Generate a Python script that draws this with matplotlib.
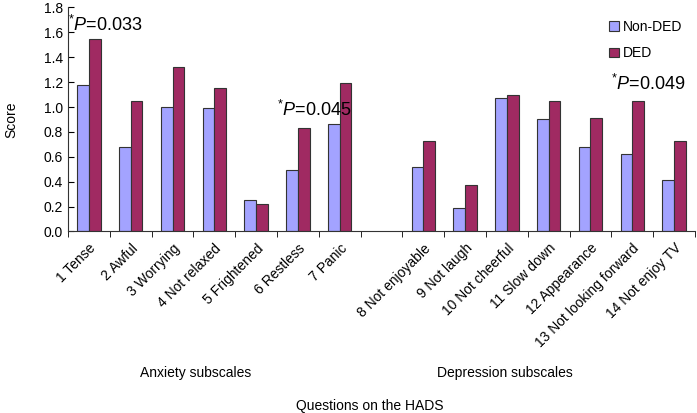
import numpy as np
import matplotlib
matplotlib.use("Agg")
import matplotlib.pyplot as plt

plt.rcParams['font.family'] = ['Liberation Sans', 'DejaVu Sans']
plt.rcParams['mathtext.fontset'] = 'custom'
plt.rcParams['mathtext.rm'] = 'Liberation Sans'
plt.rcParams['mathtext.it'] = 'Liberation Sans:italic'

# questions on the HADS (None = gap between the two subscales)
labels = ["1 Tense", "2 Awful", "3 Worrying", "4 Not relaxed", "5 Frightened",
          "6 Restless", "7 Panic", None, "8 Not enjoyable", "9 Not laugh",
          "10 Not cheerful", "11 Slow down", "12 Appearance",
          "13 Not looking forward", "14 Not enjoy TV"]
non_ded = [1.18, 0.68, 1.00, 0.99, 0.25, 0.49, 0.86, None,
           0.52, 0.19, 1.07, 0.90, 0.68, 0.62, 0.41]
ded = [1.55, 1.05, 1.32, 1.15, 0.22, 0.83, 1.19, None,
       0.73, 0.37, 1.10, 1.05, 0.91, 1.05, 0.73]

# p-value annotations: (slot index, y, text)
notes = [(0, 1.61, "0.033"), (5, 0.93, "0.045"), (13, 1.14, "0.049")]

fig = plt.figure(figsize=(6.97, 4.13), dpi=100)
ax = fig.add_axes([0.0976, 0.4395, 0.8994, 0.5425])

idx = [i for i, v in enumerate(non_ded) if v is not None]
x = np.array(idx, dtype=float)
w = 0.28
ax.bar(x - w / 2, [non_ded[i] for i in idx], width=w, color='#A3A3FF',
       edgecolor='#333333', linewidth=0.8, label='Non-DED')
ax.bar(x + w / 2, [ded[i] for i in idx], width=w, color='#A02A62',
       edgecolor='#333333', linewidth=0.8, label='DED')

ax.set_xlim(-0.5, len(labels) - 0.5)
ax.set_ylim(0, 1.8)
ax.set_yticks(np.arange(0, 1.81, 0.2))
ax.set_yticklabels(["%.1f" % v for v in np.arange(0, 1.81, 0.2)], fontsize=10)
ax.tick_params(axis='y', direction='in', length=4)

ax.set_xticks(x)
ax.set_xticklabels([labels[i] for i in idx], rotation=45, ha='right',
                   rotation_mode='anchor', fontsize=10)
ax.tick_params(axis='x', which='major', length=0, pad=7)
ax.set_xticks(np.arange(-0.5, len(labels)), minor=True)
ax.tick_params(axis='x', which='minor', length=4, direction='out')

for s in ['top', 'right']:
    ax.spines[s].set_visible(False)
for s in ['left', 'bottom']:
    ax.spines[s].set_color('#333333')

ax.set_ylabel("Score", fontsize=10, labelpad=18)

for i, y, t in notes:
    ax.text(i - 0.5, y, r"$^{*}\mathit{P}$=" + t, fontsize=13, ha='left',
            va='baseline')

ax.legend(loc='upper right', bbox_to_anchor=(1.0, 1.0), frameon=False,
          fontsize=10, handlelength=0.7, handleheight=0.7, handletextpad=0.3,
          labelspacing=0.9)

fig.text(0.28, 0.088, "Anxiety subscales", fontsize=10, ha='center')
fig.text(0.725, 0.088, "Depression subscales", fontsize=10, ha='center')
fig.text(0.53, 0.008, "Questions on the HADS", fontsize=10, ha='center')

fig.savefig("out.png", dpi=100)
